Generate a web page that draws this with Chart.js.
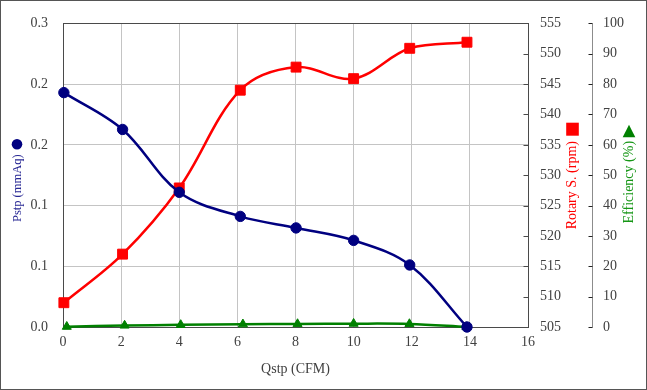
<!DOCTYPE html>
<html><head><meta charset="utf-8">
<script src="https://cdn.jsdelivr.net/npm/chart.js@4.4.1/dist/chart.umd.min.js"></script>
<style>html,body{margin:0;padding:0;background:#fff}#wrap{width:647px;height:390px;position:relative}canvas{display:block}</style>
</head><body><div id="wrap"><canvas id="c" width="647" height="390"></canvas></div>
<script>
// ---- data ----
const qstp = [0.03, 2.05, 4.0, 6.1, 8.02, 10.0, 11.93, 13.9];
const qstpEff = [0.13, 2.12, 4.05, 6.19, 8.07, 10.0, 11.92, 13.88];
const pstp = [0.2316, 0.1952, 0.1331, 0.1093, 0.0979, 0.0856, 0.0613, 0.0];
const rpm = [509.0, 517.0, 527.9, 544.0, 547.8, 545.9, 550.9, 551.9];
const efficiency = [0.1, 0.5, 0.7, 0.9, 1.0, 1.1, 1.0, 0.0];
const pstpTickValues = [0, 0.06, 0.12, 0.18, 0.24, 0.30];
const xTitle = 'Qstp (CFM)';
const pstpTitle = 'Pstp (mmAq)';
const rpmTitle = 'Rotary S. (rpm)';
const effTitle = 'Efficiency (%)';

const FONT = '"Liberation Serif", "Times New Roman", serif';
const NAVY = '#000080', RED = '#ff0000', GREEN = '#008000';

function pts(xs, ys){ return xs.map((x,i)=>({x:x, y:ys[i]})); }

const decor = {
  id:'decor',
  beforeDatasetsDraw(chart){
    const {ctx, chartArea:a, scales} = chart;
    ctx.save();
    // plot frame
    ctx.strokeStyle = '#4a4a4a'; ctx.lineWidth = 1;
    const L = Math.round(a.left)+0.5, T = Math.round(a.top)+0.5;
    const R = Math.round(a.right)+0.5, B = Math.round(a.bottom)+0.5;
    ctx.strokeRect(L, T, R-L, B-T);
    // inward ticks of rpm axis
    ctx.beginPath();
    scales.y1.ticks.forEach(t=>{
      const y = Math.round(scales.y1.getPixelForValue(t.value))+0.5;
      ctx.moveTo(R-5, y); ctx.lineTo(R, y);
    });
    ctx.stroke();
    // efficiency axis line + ticks
    const s = scales.y2;
    const X = Math.round(s.left)+0.5;
    ctx.strokeStyle = '#8c8c8c';
    ctx.beginPath(); ctx.moveTo(X, T); ctx.lineTo(X, B); ctx.stroke();
    ctx.strokeStyle = '#222';
    ctx.beginPath();
    s.ticks.forEach(t=>{
      const y = Math.round(s.getPixelForValue(t.value))+0.5;
      ctx.moveTo(X-4, y); ctx.lineTo(X, y);
    });
    ctx.stroke();
    ctx.restore();
  },
  afterDraw(chart){
    const {ctx, chartArea:a, scales} = chart;
    const midY = (a.top + a.bottom)/2;
    ctx.save();
    ctx.textAlign = 'center'; ctx.textBaseline = 'middle';
    // x title
    ctx.fillStyle = '#404040'; ctx.font = '14px ' + FONT;
    ctx.fillText(xTitle, (a.left+a.right)/2, 369);
    // left title
    ctx.save(); ctx.translate(18, midY+13); ctx.rotate(-Math.PI/2);
    ctx.fillStyle = '#262693'; ctx.font = '12.5px ' + FONT;
    ctx.fillText(pstpTitle, 0, 0); ctx.restore();
    ctx.fillStyle = NAVY; ctx.beginPath(); ctx.arc(17, midY-31, 5.3, 0, Math.PI*2); ctx.fill();
    // rpm title
    const rx = scales.y1.left + 44.5;
    ctx.save(); ctx.translate(rx, midY+10); ctx.rotate(-Math.PI/2);
    ctx.fillStyle = RED; ctx.font = '14px ' + FONT;
    ctx.fillText(rpmTitle, 0, 0); ctx.restore();
    ctx.fillStyle = RED; ctx.fillRect(rx-6.3, midY-52.5, 12.6, 13);
    // efficiency title
    const ex = scales.y2.left + 37;
    ctx.save(); ctx.translate(ex, midY+7); ctx.rotate(-Math.PI/2);
    ctx.fillStyle = '#169616'; ctx.font = '14px ' + FONT;
    ctx.fillText(effTitle, 0, 0); ctx.restore();
    ctx.fillStyle = GREEN; ctx.beginPath();
    ctx.moveTo(ex, midY-50.5); ctx.lineTo(ex+6.3, midY-38); ctx.lineTo(ex-6.3, midY-38); ctx.closePath(); ctx.fill();
    // outer border
    ctx.strokeStyle = '#555'; ctx.lineWidth = 1;
    ctx.strokeRect(0.5, 0.5, chart.width-1, chart.height-1);
    ctx.restore();
  }
};

new Chart(document.getElementById('c'), {
  type: 'line',
  data: {
    datasets: [
      { label: pstpTitle, data: pts(qstp, pstp), yAxisID: 'y', borderColor: NAVY, backgroundColor: NAVY,
        borderWidth: 2.5, pointStyle: 'circle', pointRadius: 5.2, pointBorderWidth: 1, tension: 0.35, clip: false },
      { label: rpmTitle, data: pts(qstp, rpm), yAxisID: 'y1', borderColor: RED, backgroundColor: RED,
        borderWidth: 2.5, pointStyle: 'rect', pointRadius: 7, pointBorderWidth: 1, tension: 0.35, clip: false },
      { label: effTitle, data: pts(qstpEff, efficiency), yAxisID: 'y2', borderColor: GREEN, backgroundColor: GREEN,
        borderWidth: 2.5, pointStyle: 'triangle', pointRadius: 5.2, pointBorderWidth: 1, tension: 0.35, clip: false }
    ]
  },
  options: {
    responsive: false, animation: false, devicePixelRatio: 1,
    layout: { padding: { left: 0, right: 0, top: 19, bottom: 0 } },
    plugins: { legend: { display: false }, tooltip: { enabled: false } },
    scales: {
      x: { type: 'linear', position: 'bottom', min: 0, max: 16,
        ticks: { stepSize: 2, padding: 7, color: '#404040', font: { family: FONT, size: 14 } },
        grid: { color: '#c4c4c4', drawTicks: false }, border: { display: false },
        afterFit(s){ s.height = 63; } },
      y: { type: 'linear', position: 'left', min: 0, max: 0.3,
        afterBuildTicks(s){ s.ticks = pstpTickValues.map(v=>({value:v})); },
        ticks: { padding: 15, color: '#404040', font: { family: FONT, size: 14 },
          callback: v => Number(v).toFixed(1) },
        grid: { color: '#c4c4c4', drawTicks: false }, border: { display: false },
        afterFit(s){ s.width = 63; } },
      y1: { type: 'linear', position: 'right', weight: 0, min: 505, max: 555,
        ticks: { stepSize: 5, padding: 12, color: '#404040', font: { family: FONT, size: 14 } },
        grid: { display: false, drawTicks: false }, border: { display: false },
        afterFit(s){ s.width = 64; } },
      y2: { type: 'linear', position: 'right', weight: 1, min: 0, max: 100,
        ticks: { stepSize: 10, padding: 11, color: '#404040', font: { family: FONT, size: 14 } },
        grid: { display: false, drawTicks: false }, border: { display: false },
        afterFit(s){ s.width = 55; } }
    }
  },
  plugins: [decor]
});
</script>
</body></html>
